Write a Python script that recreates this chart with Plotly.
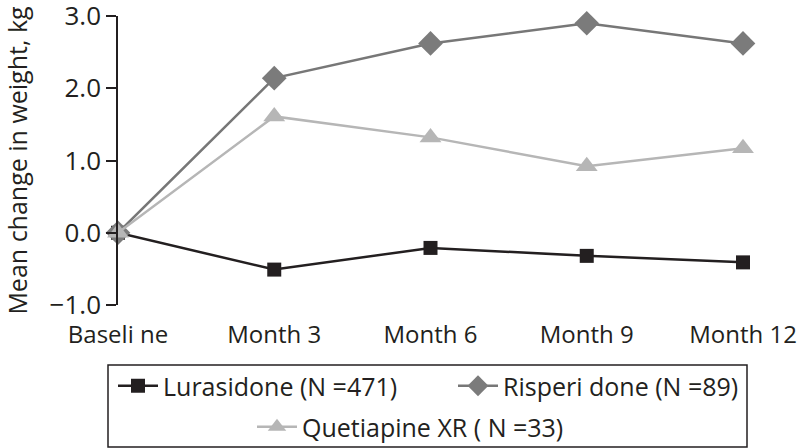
import plotly.graph_objects as go

categories = ["Baseli ne", "Month 3", "Month 6", "Month 9", "Month 12"]
lurasidone = [0.0, -0.51, -0.21, -0.32, -0.41]
risperidone = [0.0, 2.14, 2.62, 2.90, 2.62]
quetiapine = [0.0, 1.61, 1.32, 0.92, 1.17]
names = ["Lurasidone (N =471)", "Risperi done (N =89)", "Quetiapine XR ( N =33)"]
yticks = [-1.0, 0.0, 1.0, 2.0, 3.0]
yticktext = ["\u22121.0", "0.0", "1.0", "2.0", "3.0"]

xs = list(range(len(categories)))
FONT = "Open Sans"
AX = "#231f20"
L, R, T, B = 118, 57, 16, 143
PW = 800 - L - R
PH = 448 - T - B


def px_x(p):
    return (p - L) / PW


def px_y(p):
    return (448 - B - p) / PH


fig = go.Figure()
fig.add_trace(go.Scatter(x=xs, y=lurasidone, name=names[0], mode="lines+markers",
                         line=dict(color="#231f20", width=2.5),
                         marker=dict(symbol="square", size=14, color="#231f20"),
                         cliponaxis=False, legend="legend"))
fig.add_trace(go.Scatter(x=xs, y=risperidone, name=names[1], mode="lines+markers",
                         line=dict(color="#777777", width=2.5),
                         marker=dict(symbol="diamond", size=19, color="#7b7b7b"),
                         cliponaxis=False, legend="legend"))
fig.add_trace(go.Scatter(x=xs, y=quetiapine, name=names[2], mode="lines+markers",
                         line=dict(color="#b6b6b6", width=2.5),
                         marker=dict(symbol="triangle-up", size=19, color="#b6b6b6"),
                         cliponaxis=False, legend="legend2"))

fig.update_layout(
    width=800, height=448,
    margin=dict(l=L, r=R, t=T, b=B, autoexpand=False),
    plot_bgcolor="white", paper_bgcolor="white",
    font=dict(family=FONT, size=24, color=AX),
    xaxis=dict(range=[0, 4], tickvals=xs, ticktext=categories, showline=False,
               showgrid=False, zeroline=False, ticks="", ticklabelstandoff=13,
               tickfont=dict(size=24), automargin=False),
    xaxis2=dict(range=[0, 4], overlaying="x", anchor="free", position=0.25,
                side="bottom", tickvals=xs, showticklabels=False, showline=True,
                linecolor=AX, linewidth=1.5, ticks="outside", ticklen=7,
                tickcolor=AX, tickwidth=1.5, showgrid=False, zeroline=False,
                automargin=False),
    yaxis=dict(range=[-1.0001, 3.0001], tickvals=yticks, ticktext=yticktext, showline=True,
               linecolor=AX, linewidth=1.5, ticks="outside", ticklen=10,
               tickcolor=AX, tickwidth=1.5, showgrid=False, zeroline=False,
               tickfont=dict(size=26), automargin=False, ticklabeloverflow="allow",
               title=dict(text="Mean change in weight, kg", font=dict(size=25), standoff=18)),
    legend=dict(orientation="h", x=px_x(113), xanchor="left", y=px_y(386), yanchor="middle",
                font=dict(size=25), bgcolor="rgba(0,0,0,0)", itemwidth=40, entrywidth=285),
    legend2=dict(orientation="h", x=px_x(252), xanchor="left", y=px_y(427), yanchor="middle",
                 font=dict(size=25), bgcolor="rgba(0,0,0,0)", itemwidth=40),
    shapes=[dict(type="rect", xref="paper", yref="paper", x0=px_x(108), x1=px_x(747),
                 y0=px_y(447), y1=px_y(365), line=dict(color=AX, width=1.5))],
)

fig.write_html("out.html", config={"displayModeBar": False},
               post_script="document.body.style.margin='0';document.body.style.overflow='hidden';")
